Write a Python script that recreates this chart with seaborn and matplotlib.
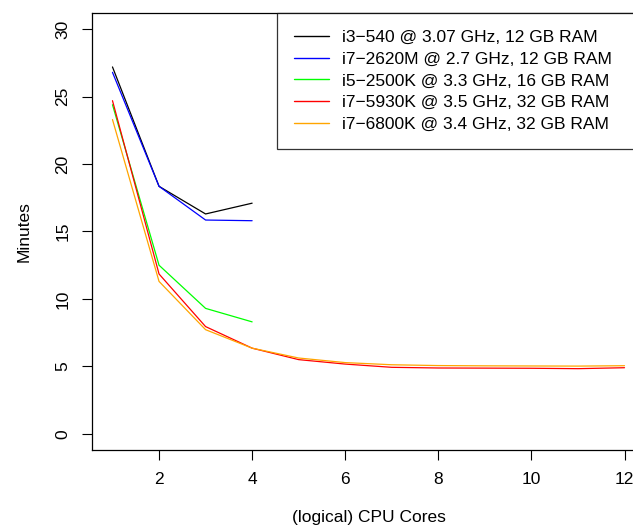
import pandas as pd
import seaborn as sns
import matplotlib
matplotlib.use('Agg')
import matplotlib.pyplot as plt

# values
labels = [
    'i3\u2212540 @ 3.07 GHz, 12 GB RAM',
    'i7\u22122620M @ 2.7 GHz, 12 GB RAM',
    'i5\u22122500K @ 3.3 GHz, 16 GB RAM',
    'i7\u22125930K @ 3.5 GHz, 32 GB RAM',
    'i7\u22126800K @ 3.4 GHz, 32 GB RAM',
]
colors = ['black', 'blue', '#00ff00', 'red', 'orange']

cores_4 = [1, 2, 3, 4]
cores_12 = [1, 2, 3, 4, 5, 6, 7, 8, 9, 10, 11, 12]

i3_540 = [27.2, 18.35, 16.3, 17.1]
i7_2620m = [26.8, 18.35, 15.85, 15.8]
i5_2500k = [24.4, 12.5, 9.3, 8.3]
i7_5930k = [24.7, 11.85, 7.95, 6.35, 5.5, 5.17, 4.93, 4.88, 4.87, 4.86, 4.83, 4.9]
i7_6800k = [23.3, 11.3, 7.72, 6.35, 5.62, 5.28, 5.12, 5.06, 5.04, 5.03, 5.02, 5.05]

series = [
    (labels[0], cores_4, i3_540),
    (labels[1], cores_4, i7_2620m),
    (labels[2], cores_4, i5_2500k),
    (labels[3], cores_12, i7_5930k),
    (labels[4], cores_12, i7_6800k),
]

rows = []
for name, xs, ys in series:
    for x, y in zip(xs, ys):
        rows.append({'cpu': name, 'cores': x, 'minutes': y})
df = pd.DataFrame(rows)

sns.set_style('ticks')
plt.rcParams['font.family'] = ['Liberation Sans', 'DejaVu Sans']
plt.rcParams['text.color'] = 'black'
plt.rcParams['axes.labelcolor'] = 'black'
plt.rcParams['xtick.color'] = 'black'
plt.rcParams['ytick.color'] = 'black'

fs = 12.5

fig = plt.figure(figsize=(6.33, 5.27), dpi=100)
ax = fig.add_axes([92 / 633, 1 - 450 / 527, (645 - 92) / 633, (450 - 13) / 527])

sns.lineplot(data=df, x='cores', y='minutes', hue='cpu', hue_order=labels,
             palette=colors, linewidth=0.9, ax=ax, estimator=None, sort=False)

ax.set_xlim(0.56, 12.44)
ax.set_ylim(-1.2, 31.2)
ax.set_xticks([2, 4, 6, 8, 10, 12])
ax.set_yticks([0, 5, 10, 15, 20, 25, 30])
ax.tick_params(axis='both', direction='out', length=7.5, width=0.8,
               labelsize=fs, pad=8, color='black', labelcolor='black')
for t in ax.get_yticklabels():
    t.set_rotation(90)
    t.set_va('center')
for s in ax.spines.values():
    s.set_linewidth(0.9)
    s.set_color('black')

ax.set_xlabel('(logical) CPU Cores', fontsize=fs, labelpad=17)
ax.set_ylabel('Minutes', fontsize=fs, labelpad=17)

leg = ax.legend(loc='upper left', bbox_to_anchor=((277 - 92) / 553, 0, 0.72, 1.0),
                mode='expand', fontsize=fs,
                frameon=True, fancybox=False, edgecolor='black',
                handlelength=2.0, handletextpad=0.8, labelspacing=0.38,
                borderaxespad=0, borderpad=0.97)
leg.get_frame().set_linewidth(0.9)
leg.set_title(None)
for line in leg.get_lines():
    line.set_linewidth(1.0)

fig.savefig('out.png', dpi=100)
